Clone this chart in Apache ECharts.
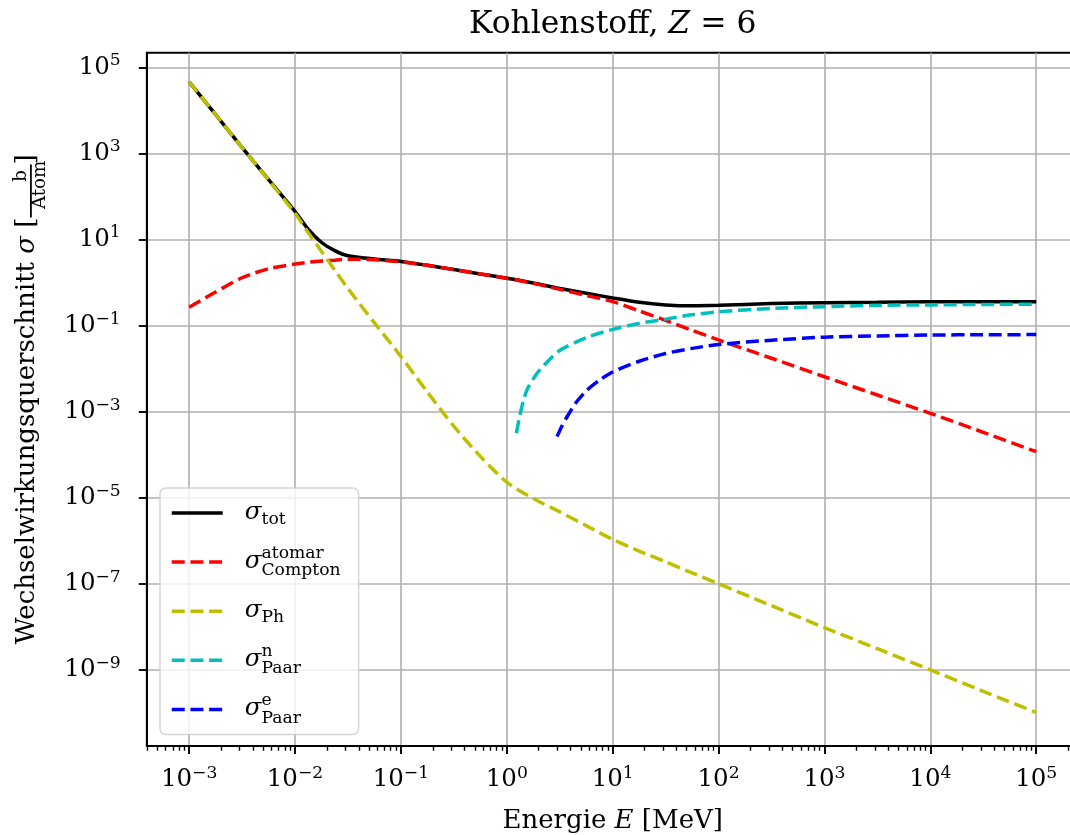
<!DOCTYPE html>
<html>
<head>
<meta charset="utf-8">
<title>Kohlenstoff, Z = 6</title>
<script src="https://cdn.jsdelivr.net/npm/echarts@6/dist/echarts.min.js"></script>
<style>
  html, body { margin: 0; padding: 0; background: #ffffff; }
  #chart { width: 1070px; height: 835px; }
</style>
</head>
<body>
<div id="chart"></div>
<script>
// Energie in MeV, Wirkungsquerschnitte in b/Atom
const energies = [0.001, 0.00178, 0.00316, 0.00562, 0.01, 0.0133, 0.0178, 0.0237, 0.0316, 0.0562,
  0.1, 0.178, 0.316, 0.562, 1, 1.78, 3.16, 5.62, 10, 17.8, 31.6, 56.2, 100, 316, 1000, 3160, 1e4, 3.16e4, 1e5];
const sigmaTot = [4.57e4, 7.94e3, 1.38e3, 245, 44.7, 17.4, 8.51, 5.50, 4.17, 3.51,
  3.09, 2.51, 2.0, 1.58, 1.26, 0.977, 0.724, 0.562, 0.437, 0.347, 0.302, 0.288, 0.295, 0.324, 0.339, 0.347, 0.355, 0.355, 0.355];
const sigmaCompton = [0.266, 0.603, 1.29, 2.09, 2.69, 2.95, 3.16, 3.31, 3.47, 3.39,
  3.02, 2.51, 2.0, 1.58, 1.26, 0.955, 0.692, 0.501, 0.359, 0.219, 0.132, 0.0776, 0.0462, 0.0174, 6.46e-3, 2.43e-3, 9.12e-4, 3.31e-4, 1.17e-4];
const sigmaPhoto = [4.57e4, 7.94e3, 1.38e3, 240, 40.7, 14.5, 5.25, 1.95, 0.724, 0.115,
  0.0191, 2.82e-3, 4.57e-4, 9.12e-5, 2.29e-5, 9.55e-6, 4.68e-6, 2.24e-6, 1.07e-6, 5.75e-7, 3.24e-7, 1.78e-7, 1.0e-7, 3.09e-8, 9.55e-9, 3.09e-9, 1.0e-9, 3.16e-10, 1.02e-10];

const energiesPaarN = [1.23, 1.32, 1.44, 1.58, 1.93, 2.51, 3.2, 5.62, 10, 17.8, 31.6, 56.2, 100, 316, 1000, 3160, 1e4, 3.16e4, 1e5];
const sigmaPaarN = [3.16e-4, 7.59e-4, 1.86e-3, 3.55e-3, 7.76e-3, 0.0158, 0.0269, 0.0525, 0.0813, 0.112, 0.141, 0.178, 0.209, 0.251, 0.275, 0.295, 0.302, 0.309, 0.313];

const energiesPaarE = [2.98, 3.31, 3.71, 4.47, 5.73, 7.5, 10, 17.8, 31.6, 56.2, 100, 316, 1000, 3160, 1e4, 3.16e4, 1e5];
const sigmaPaarE = [2.63e-4, 4.57e-4, 7.59e-4, 1.58e-3, 3.16e-3, 5.37e-3, 8.32e-3, 0.0148, 0.0224, 0.0295, 0.0363, 0.0457, 0.0537, 0.0575, 0.0603, 0.061, 0.0617];

// Achsen (Zehnerexponenten)
const xExponents = [-3, -2, -1, 0, 1, 2, 3, 4, 5];
const yExponents = [-9, -7, -5, -3, -1, 1, 3, 5];
const minorFactors = [2, 3, 4, 5, 6, 7, 8, 9];
const xRange = [-3.4, 5.4];
const yRange = [-10.77, 5.34];

const SERIF = '"DejaVu Serif", serif';
const FS = 24.5;    // Tick-Beschriftung, Legende
const FSS = 17.2;   // Indizes
const FSN = 26;     // Achsentitel
const FSNS = 18.2;

const xMinor = [];
[-4, -3, -2, -1, 0, 1, 2, 3, 4, 5].forEach(function (d) {
  minorFactors.forEach(function (f) {
    const v = d + Math.log10(f);
    if (v > xRange[0] && v < xRange[1]) xMinor.push(v);
  });
});

function toLog(xs, ys) {
  return xs.map(function (x, i) { return [Math.log10(x), Math.log10(ys[i])]; });
}

function powLabel(v) {
  const n = Math.round(v);
  return '{b|10}{e|' + (n < 0 ? '\u2212' + (-n) : n) + '}';
}

const tickRich = {
  b: { fontFamily: SERIF, fontSize: FS, lineHeight: 30, color: '#000' },
  e: { fontFamily: SERIF, fontSize: FSS, lineHeight: 16, verticalAlign: 'top', color: '#000' }
};

const legendLabels = {
  tot: ['', 'tot', true],
  compton: ['atomar', 'Compton', false],
  ph: ['', 'Ph', true],
  paarN: ['n', 'Paar', false],
  paarE: ['e', 'Paar', false]
};

const legendRich = {
  pad: { width: 17, fontSize: 1, lineHeight: 1 },
  ph1: { fontFamily: SERIF, fontStyle: 'italic', fontSize: FS, color: 'rgba(0,0,0,0)', lineHeight: 13.4 },
  ph3: { fontFamily: SERIF, fontStyle: 'italic', fontSize: FS, color: 'rgba(0,0,0,0)', lineHeight: 14 },
  sig: { fontFamily: SERIF, fontStyle: 'italic', fontSize: FS, color: '#000', lineHeight: 4 },
  sup: { fontFamily: SERIF, fontSize: FSS, color: '#000', lineHeight: 13.4 },
  sub: { fontFamily: SERIF, fontSize: FSS, color: '#000', lineHeight: 14 },
  subHi: { fontFamily: SERIF, fontSize: FSS, color: '#000', height: 9, lineHeight: 9, verticalAlign: 'top' }
};

const yNameRich = {
  p1: { fontFamily: SERIF, fontSize: FSN, color: 'rgba(0,0,0,0)', lineHeight: 1 },
  p1i: { fontFamily: SERIF, fontSize: FSN, fontStyle: 'italic', color: 'rgba(0,0,0,0)', lineHeight: 1 },
  npad: { width: 20, fontSize: 1, lineHeight: 1 },
  num: { fontFamily: SERIF, fontSize: FSNS, color: '#000', lineHeight: 1 },
  t: { fontFamily: SERIF, fontSize: FSN, color: '#000', lineHeight: 10 },
  ti: { fontFamily: SERIF, fontSize: FSN, fontStyle: 'italic', color: '#000', lineHeight: 10 },
  bar: { width: 53, height: 1.8, fontSize: 1, lineHeight: 1.8, backgroundColor: '#000', verticalAlign: 'bottom' },
  p3: { fontFamily: SERIF, fontSize: FSN, color: 'rgba(0,0,0,0)', lineHeight: 16 },
  p3i: { fontFamily: SERIF, fontSize: FSN, fontStyle: 'italic', color: 'rgba(0,0,0,0)', lineHeight: 16 },
  dpad: { width: 2, fontSize: 1, lineHeight: 16 },
  den: { fontFamily: SERIF, fontSize: FSNS, color: '#000', lineHeight: 16 }
};

const yName =
  '{p1|Wechselwirkungsquerschnitt }{p1i|\u03c3}{p1| [}{npad| }{num|b}\n' +
  '{t|Wechselwirkungsquerschnitt }{ti|\u03c3}{t| [}{bar| }{t|]}\n' +
  '{p3|Wechselwirkungsquerschnitt }{p3i|\u03c3}{p3| [}{dpad| }{den|Atom}';

const dash = [13, 5.7];

const chart = echarts.init(document.getElementById('chart'), null, { renderer: 'canvas' });

chart.setOption({
  animation: false,
  backgroundColor: '#ffffff',
  title: {
    left: 612.7,
    top: 9,
    padding: 0,
    textAlign: 'center',
    text: '{t|Kohlenstoff, }{i|Z}{t| = 6}',
    textStyle: {
      fontWeight: 'normal',
      rich: {
        t: { fontFamily: SERIF, fontSize: 31.4, fontWeight: 'normal', color: '#000', lineHeight: 32 },
        i: { fontFamily: SERIF, fontSize: 31.4, fontWeight: 'normal', fontStyle: 'italic', color: '#000', lineHeight: 32 }
      }
    }
  },
  grid: {
    left: 146.8, top: 52.7, width: 931.8, height: 693.3,
    containLabel: false, outerBoundsMode: 'none',
    show: true, borderColor: '#000', borderWidth: 1.9, backgroundColor: 'transparent'
  },
  legend: {
    left: 160, top: 488,
    orient: 'vertical',
    selectedMode: false,
    itemWidth: 51, itemHeight: 14, itemGap: 6.4,
    padding: [3.5, 18, 4, 10],
    backgroundColor: 'rgba(255,255,255,0.8)',
    borderColor: 'rgba(204,204,204,0.8)',
    borderWidth: 1.5,
    borderRadius: 6,
    itemStyle: { opacity: 0 },
    lineStyle: { width: 3.5 },
    data: ['tot', 'compton', 'ph', 'paarN', 'paarE'],
    formatter: function (name) {
      const l = legendLabels[name];
      return '{pad| }{ph1|\u03c3}{sup|' + (l[0] || ' ') + '}\n' +
        '{pad| }{sig|\u03c3}\n' +
        '{pad| }{ph3|\u03c3}{' + (l[2] ? 'subHi' : 'sub') + '|' + l[1] + '}';
    },
    textStyle: { rich: legendRich }
  },
  xAxis: [{
    type: 'value', min: xRange[0], max: xRange[1],
    position: 'bottom',
    name: '{t|Energie }{i|E}{t| [MeV]}',
    nameLocation: 'middle', nameGap: 61,
    nameTextStyle: {
      rich: {
        t: { fontFamily: SERIF, fontSize: FSN, color: '#000', lineHeight: 28 },
        i: { fontFamily: SERIF, fontSize: FSN, fontStyle: 'italic', color: '#000', lineHeight: 28 }
      }
    },
    axisLine: { show: true, onZero: false, lineStyle: { color: '#000', width: 1.9 } },
    axisTick: { show: true, length: 8, customValues: xExponents, lineStyle: { color: '#000', width: 1.9 } },
    axisLabel: { customValues: xExponents, margin: 19, formatter: powLabel, rich: tickRich },
    splitLine: { show: true, lineStyle: { color: '#b0b0b0', width: 1.6 } }
  }, {
    type: 'value', min: xRange[0], max: xRange[1],
    position: 'bottom',
    axisLine: { show: false, onZero: false },
    axisTick: { show: true, length: 4.7, customValues: xMinor, lineStyle: { color: '#000', width: 1.4 } },
    axisLabel: { show: false },
    splitLine: { show: false }
  }],
  yAxis: {
    type: 'value', min: yRange[0], max: yRange[1],
    name: yName,
    nameLocation: 'middle', nameRotate: 90, nameGap: 99,
    nameTextStyle: { rich: yNameRich },
    axisLine: { show: true, onZero: false, lineStyle: { color: '#000', width: 1.9 } },
    axisTick: { show: true, length: 8, customValues: yExponents, lineStyle: { color: '#000', width: 1.9 } },
    axisLabel: { customValues: yExponents, margin: 26, formatter: powLabel, rich: tickRich },
    splitLine: { show: true, lineStyle: { color: '#b0b0b0', width: 1.6 } }
  },
  series: [
    { name: 'tot', type: 'line', symbol: 'none', smooth: 0.25, data: toLog(energies, sigmaTot),
      lineStyle: { color: '#000000', width: 3.5 }, itemStyle: { color: '#000000' } },
    { name: 'compton', type: 'line', symbol: 'none', smooth: 0.25, data: toLog(energies, sigmaCompton),
      lineStyle: { color: '#ff0000', width: 3.5, type: dash }, itemStyle: { color: '#ff0000' } },
    { name: 'ph', type: 'line', symbol: 'none', smooth: 0.25, data: toLog(energies, sigmaPhoto),
      lineStyle: { color: '#bfbf00', width: 3.5, type: dash }, itemStyle: { color: '#bfbf00' } },
    { name: 'paarN', type: 'line', symbol: 'none', smooth: 0.25, data: toLog(energiesPaarN, sigmaPaarN),
      lineStyle: { color: '#00bfbf', width: 3.5, type: dash }, itemStyle: { color: '#00bfbf' } },
    { name: 'paarE', type: 'line', symbol: 'none', smooth: 0.25, data: toLog(energiesPaarE, sigmaPaarE),
      lineStyle: { color: '#0000ff', width: 3.5, type: dash }, itemStyle: { color: '#0000ff' } }
  ]
});
</script>
</body>
</html>
